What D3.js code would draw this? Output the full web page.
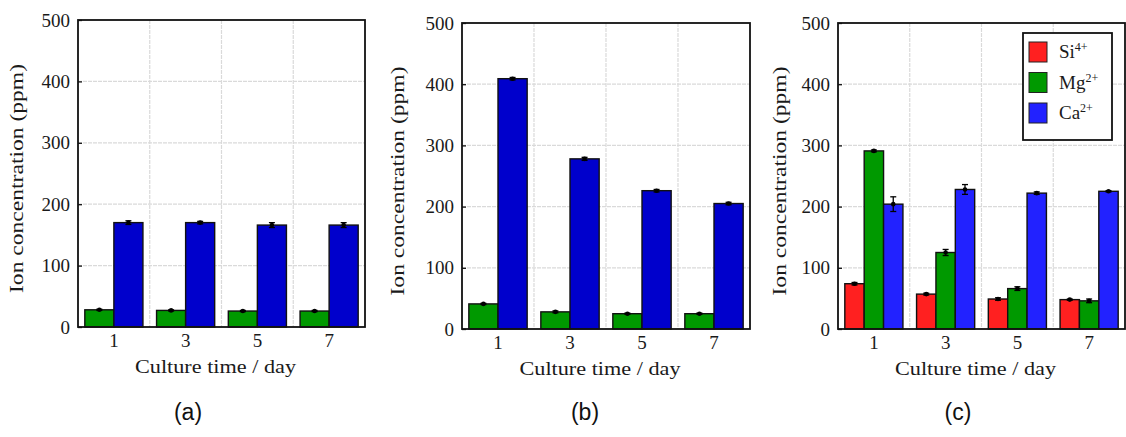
<!DOCTYPE html>
<html>
<head>
<meta charset="utf-8">
<script src="https://cdn.jsdelivr.net/npm/d3@7"></script>
<style>
  body { margin: 0; background: #fff; }
  svg { display: block; }
  .serif { font-family: "Liberation Serif", "DejaVu Serif", serif; }
</style>
</head>
<body>
<svg id="chart" width="1126" height="437"></svg>
<script>
// culture days
const days = ["1", "3", "5", "7"];
const yTicks = [0, 100, 200, 300, 400, 500];

// panel (a)
const aMg = [28, 27, 26, 26];
const aMgErr = [1, 1, 1, 1];
const aCa = [170, 170, 166, 166];
const aCaErr = [3, 2, 4, 4];

// panel (b)
const bMg = [41, 28, 25, 25];
const bMgErr = [1, 1.5, 1, 1];
const bCa = [409, 278, 226, 205];
const bCaErr = [2, 2.5, 2, 2];

// panel (c)
const cSi = [74, 57, 49, 48];
const cSiErr = [2, 1.5, 2, 1];
const cMg = [291, 125, 66, 46];
const cMgErr = [1.5, 5, 3, 3];
const cCa = [204, 228, 222, 225];
const cCaErr = [12, 8, 2, 1];

const legendNames = [["Si", "4+"], ["Mg", "2+"], ["Ca", "2+"]];

const svg = d3.select("#chart");

function panel(box, series, label, ylabX, legend) {
  const x = d3.scaleBand().domain(days).range([box.left, box.right]).paddingInner(0).paddingOuter(0);
  const y = d3.scaleLinear().domain([0, 500]).range([box.bottom, box.top]);
  const groupW = x.bandwidth() * 0.81;
  const sub = d3.scaleBand().domain(d3.range(series.length)).range([0, groupW]);

  const g = svg.append("g");

  // grid
  g.selectAll(".hg").data(yTicks.slice(1, -1)).enter().append("line")
    .attr("x1", box.left).attr("x2", box.right)
    .attr("y1", d => y(d)).attr("y2", d => y(d))
    .attr("stroke", "#dadada").attr("stroke-width", 1.2).attr("stroke-dasharray", "4,1");
  g.selectAll(".vg").data(days.slice(1)).enter().append("line")
    .attr("x1", d => x(d)).attr("x2", d => x(d))
    .attr("y1", box.top).attr("y2", box.bottom)
    .attr("stroke", "#dadada").attr("stroke-width", 1.2).attr("stroke-dasharray", "4,1");

  // bars
  series.forEach((s, si) => {
    const bx = d => x(d) + (x.bandwidth() - groupW) / 2 + sub(si);
    g.selectAll(".bar" + si).data(days).enter().append("rect")
      .attr("x", d => bx(d))
      .attr("y", (d, i) => y(s.values[i]))
      .attr("width", sub.bandwidth())
      .attr("height", (d, i) => y(0) - y(s.values[i]))
      .attr("fill", s.color).attr("stroke", "#111").attr("stroke-width", 1.4);

    // error bars
    const cx = d => bx(d) + sub.bandwidth() / 2;
    const eb = g.selectAll(".err" + si).data(days).enter().append("g");
    eb.append("line")
      .attr("x1", d => cx(d)).attr("x2", d => cx(d))
      .attr("y1", (d, i) => y(s.values[i] - s.err[i]))
      .attr("y2", (d, i) => y(s.values[i] + s.err[i]))
      .attr("stroke", "#000").attr("stroke-width", 1.3);
    [1, -1].forEach(sg => {
      eb.append("line")
        .attr("x1", d => cx(d) - 3).attr("x2", d => cx(d) + 3)
        .attr("y1", (d, i) => y(s.values[i] + sg * s.err[i]))
        .attr("y2", (d, i) => y(s.values[i] + sg * s.err[i]))
        .attr("stroke", "#000").attr("stroke-width", 1.3);
    });
    eb.append("circle")
      .attr("cx", d => cx(d)).attr("cy", (d, i) => y(s.values[i]))
      .attr("r", 2.3).attr("fill", "#000");
  });

  // frame
  g.append("rect")
    .attr("x", box.left).attr("y", box.top)
    .attr("width", box.right - box.left).attr("height", box.bottom - box.top)
    .attr("fill", "none").attr("stroke", "#111").attr("stroke-width", 1.8);

  // y axis
  const ya = g.append("g").attr("transform", `translate(${box.left},0)`)
    .call(d3.axisLeft(y).tickValues(yTicks).tickSizeInner(-4).tickSizeOuter(0).tickPadding(8));
  ya.select(".domain").remove();
  ya.selectAll("line").attr("stroke", "#111").attr("stroke-width", 1.3);
  ya.selectAll("text").attr("class", "serif").attr("font-size", 19).attr("fill", "#1a1a1a");

  // x axis
  const xa = g.append("g").attr("transform", `translate(0,${box.bottom})`)
    .call(d3.axisBottom(x).tickSize(0).tickPadding(7));
  xa.select(".domain").remove();
  xa.selectAll("text").attr("class", "serif").attr("font-size", 19).attr("fill", "#1a1a1a");

  // titles
  g.append("text").attr("class", "serif")
    .attr("x", (box.left + box.right) / 2 - 6).attr("y", box.bottom + 46)
    .attr("text-anchor", "middle").attr("font-size", 19).attr("fill", "#1a1a1a")
    .attr("textLength", 161).attr("lengthAdjust", "spacingAndGlyphs")
    .text("Culture time / day");
  g.append("text").attr("class", "serif")
    .attr("transform", `translate(${ylabX},${(box.top + box.bottom) / 2 + 5}) rotate(-90)`)
    .attr("text-anchor", "middle").attr("font-size", 19).attr("fill", "#1a1a1a")
    .attr("textLength", 229).attr("lengthAdjust", "spacingAndGlyphs")
    .text("Ion concentration (ppm)");
  g.append("text")
    .attr("x", label.x).attr("y", 420)
    .attr("text-anchor", "middle").attr("font-family", "Liberation Sans, Arial, sans-serif")
    .attr("font-size", 23).attr("fill", "#111")
    .text(label.text);

  if (legend) {
    const lg = g.append("g");
    lg.append("rect").attr("x", 1023).attr("y", 33).attr("width", 89).attr("height", 107)
      .attr("fill", "#fff").attr("stroke", "#111").attr("stroke-width", 1.8);
    series.forEach((s, si) => {
      const cy = 52 + si * 30.5;
      lg.append("rect").attr("x", 1029).attr("y", cy - 10).attr("width", 18).attr("height", 20)
        .attr("fill", s.color).attr("stroke", "#222").attr("stroke-width", 1);
      const t = lg.append("text").attr("class", "serif")
        .attr("x", 1059).attr("y", cy + 6).attr("font-size", 19).attr("fill", "#1a1a1a");
      t.append("tspan").text(legendNames[si][0]);
      t.append("tspan").attr("dy", -7).attr("font-size", 12).text(legendNames[si][1]);
    });
  }
}

panel({ left: 78, right: 365, top: 20, bottom: 327 },
  [{ values: aMg, err: aMgErr, color: "#009900" },
   { values: aCa, err: aCaErr, color: "#0000cc" }],
  { x: 188, text: "(a)" }, 23, false);

panel({ left: 462, right: 750, top: 23, bottom: 329 },
  [{ values: bMg, err: bMgErr, color: "#009900" },
   { values: bCa, err: bCaErr, color: "#0000cc" }],
  { x: 585, text: "(b)" }, 404, false);

panel({ left: 838, right: 1125, top: 23, bottom: 329 },
  [{ values: cSi, err: cSiErr, color: "#ff2020" },
   { values: cMg, err: cMgErr, color: "#009900" },
   { values: cCa, err: cCaErr, color: "#2222ff" }],
  { x: 958, text: "(c)" }, 786, true);
</script>
</body>
</html>
